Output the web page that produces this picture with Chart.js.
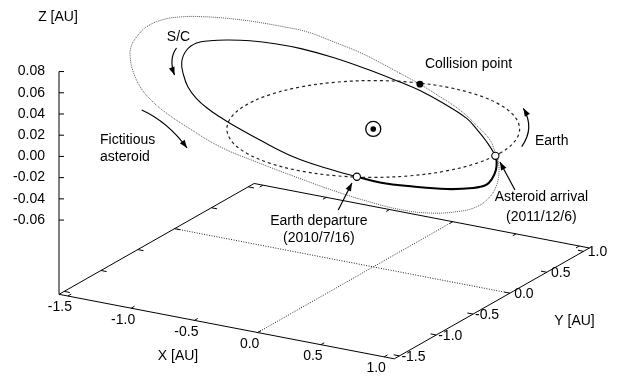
<!DOCTYPE html>
<html>
<head>
<meta charset="utf-8">
<title>Transfer orbit</title>
<script src="https://cdn.jsdelivr.net/npm/chart.js@4.4.1/dist/chart.umd.min.js"></script>
<style>
  html, body { margin: 0; padding: 0; background: #fff; }
  canvas { display: block; }
</style>
</head>
<body>
<canvas id="orbitChart" width="621" height="376"></canvas>
<script>
// box ranges (AU)
const xRange = [-1.57, 1.08];
const yRange = [-1.57, 1.08];
const zBase = -0.13;
const zTop = 0.08;

const xTicks = [-1.5, -1.0, -0.5, 0.0, 0.5, 1.0];
const yTicks = [-1.5, -1.0, -0.5, 0.0, 0.5, 1.0];
const zTicks = [-0.06, -0.04, -0.02, 0.00, 0.02, 0.04, 0.06, 0.08];

// Earth orbit, 1 AU circle, [X, Y]
const earthOrbit = [
  [1.000, 0.000], [0.966, 0.259], [0.866, 0.500], [0.707, 0.707],
  [0.500, 0.866], [0.259, 0.966], [0.000, 1.000], [-0.259, 0.966],
  [-0.500, 0.866], [-0.707, 0.707], [-0.866, 0.500], [-0.966, 0.259],
  [-1.000, 0.000], [-0.966, -0.259], [-0.866, -0.500], [-0.707, -0.707],
  [-0.500, -0.866], [-0.259, -0.966], [0.000, -1.000], [0.259, -0.966],
  [0.500, -0.866], [0.707, -0.707], [0.866, -0.500], [0.966, -0.259]
];

// spacecraft: flown arc, Earth departure -> asteroid arrival
const scTransfer = [
  [0.400, -0.910], [0.596, -0.933], [0.833, -0.892], [1.058, -0.820],
  [1.202, -0.712], [1.248, -0.614], [1.221, -0.486], [1.151, -0.312],
  [1.072, -0.166], [1.000, -0.060]
];
// rest of the spacecraft orbit, arrival back round to departure
const scOrbit = [
  [0.802, 0.162], [0.611, 0.354], [0.441, 0.511], [0.147, 0.699],
  [-0.124, 0.847], [-0.330, 0.930], [-0.662, 1.048], [-0.979, 1.139],
  [-1.262, 1.187], [-1.454, 1.187], [-1.645, 1.153], [-1.790, 1.085],
  [-1.881, 1.015], [-1.936, 0.928], [-1.922, 0.769], [-1.827, 0.538],
  [-1.681, 0.312], [-1.530, 0.113], [-1.368, -0.056], [-1.199, -0.197],
  [-1.029, -0.313], [-0.880, -0.406], [-0.554, -0.587], [-0.184, -0.771],
  [0.134, -0.863]
];

// fictitious asteroid orbit
const asteroidOrbit = [
  [-0.421, 1.086], [-0.651, 1.210], [-0.873, 1.320], [-1.143, 1.421],
  [-1.404, 1.508], [-1.594, 1.517], [-1.825, 1.507], [-2.016, 1.473],
  [-2.170, 1.421], [-2.288, 1.352], [-2.377, 1.233], [-2.400, 1.048],
  [-2.355, 0.835], [-2.282, 0.631], [-2.172, 0.432], [-2.009, 0.193],
  [-1.797, -0.067], [-1.597, -0.261], [-1.406, -0.413], [-1.125, -0.601],
  [-0.720, -0.844], [-0.312, -1.003], [0.082, -1.137], [0.404, -1.237],
  [0.710, -1.310], [0.995, -1.347], [1.208, -1.307], [1.352, -1.191],
  [1.419, -1.034], [1.393, -0.809], [1.311, -0.577], [1.190, -0.337],
  [1.059, -0.126], [0.955, 0.012], [0.804, 0.204], [0.575, 0.417],
  [0.315, 0.636], [0.059, 0.805], [-0.190, 0.960]
];

const sun = [0, 0, 0];
const collision = [-0.19, 0.96, 0];
const departure = [0.40, -0.91, 0];
const arrival = [1.00, -0.06, 0];

// orthographic view: rotation about Z, then vertical squash of the ecliptic
const VIEW = { rotZ: 30.2, tilt: 0.04562 };

function project(X, Y, Z) {
  const a = VIEW.rotZ * Math.PI / 180;
  const c = Math.cos(a), s = Math.sin(a);
  const depth = (Y - yRange[0]) * c - (X - xRange[0]) * s;
  return { x: X * c + Y * s, y: Z + depth * VIEW.tilt };
}

// closed curve: pad both ends so the spline wraps smoothly, the pad segments are hidden
function ring(points) {
  const n = points.length;
  return [points[n - 1], ...points, points[0], points[1]].map(([X, Y]) => project(X, Y, 0));
}
const hideEnds = n => ctx => (ctx.p0DataIndex === 0 || ctx.p0DataIndex === n + 1) ? 'rgba(0,0,0,0)' : undefined;

const scTrack = [...scTransfer, ...scOrbit];
const FONT = '"Liberation Sans", Arial, Helvetica, sans-serif';
const corner = project(xRange[0], yRange[0], 0);

function arrowHead(ctx, fx, fy, tx, ty) {
  const a = Math.atan2(ty - fy, tx - fx);
  const len = 8, half = 3;
  ctx.beginPath();
  ctx.moveTo(tx, ty);
  ctx.lineTo(tx - len * Math.cos(a) + half * Math.sin(a), ty - len * Math.sin(a) - half * Math.cos(a));
  ctx.lineTo(tx - len * Math.cos(a) - half * Math.sin(a), ty - len * Math.sin(a) + half * Math.cos(a));
  ctx.closePath();
  ctx.fill();
}

function curvedArrow(ctx, x0, y0, cx, cy, x1, y1) {
  ctx.beginPath();
  ctx.moveTo(x0, y0);
  ctx.quadraticCurveTo(cx, cy, x1, y1);
  ctx.stroke();
  arrowHead(ctx, cx, cy, x1, y1);
}

const boxPlugin = {
  id: 'box3d',
  beforeDatasetsDraw(chart) {
    const { ctx, scales: { x, y } } = chart;
    const px = (X, Y, Z) => { const p = project(X, Y, Z); return [x.getPixelForValue(p.x), y.getPixelForValue(p.y)]; };
    const seg = (a, b) => { ctx.beginPath(); ctx.moveTo(a[0], a[1]); ctx.lineTo(b[0], b[1]); ctx.stroke(); };
    ctx.save();
    ctx.strokeStyle = '#000';
    ctx.lineWidth = 1;

    // base of the box
    const c = [[xRange[0], yRange[0]], [xRange[1], yRange[0]], [xRange[1], yRange[1]], [xRange[0], yRange[1]]];
    ctx.beginPath();
    c.forEach(([X, Y], i) => { const [u, v] = px(X, Y, zBase); i ? ctx.lineTo(u, v) : ctx.moveTo(u, v); });
    ctx.closePath();
    ctx.stroke();

    // vertical Z axis with inward ticks
    const z0 = px(xRange[0], yRange[0], zBase), z1 = px(xRange[0], yRange[0], zTop);
    seg(z0, z1);
    zTicks.forEach(v => { const p = px(xRange[0], yRange[0], v); seg(p, [p[0] + 5, p[1]]); });

    // tick marks on the base, mirrored on the far edges
    const tl = 0.045;
    ctx.font = '14px ' + FONT;
    ctx.fillStyle = '#000';
    ctx.textAlign = 'center';
    ctx.textBaseline = 'middle';
    xTicks.forEach(v => {
      const a = px(v, yRange[0], zBase), b = px(v, yRange[1], zBase);
      seg(a, px(v, yRange[0] + tl, zBase));
      seg(b, px(v, yRange[1] - tl, zBase));
      ctx.fillText(v.toFixed(1), a[0] - 8, a[1] + 11.5);
    });
    yTicks.forEach(v => {
      const a = px(xRange[1], v, zBase), b = px(xRange[0], v, zBase);
      seg(a, px(xRange[1] - tl, v, zBase));
      seg(b, px(xRange[0] + tl, v, zBase));
      ctx.fillText(v.toFixed(1), a[0] + 14, a[1] + 1);
    });

    // dotted zero lines on the base
    ctx.strokeStyle = '#222';
    ctx.setLineDash([1, 1.5]);
    seg(px(0, yRange[0], zBase), px(0, yRange[1], zBase));
    seg(px(xRange[0], 0, zBase), px(xRange[1], 0, zBase));
    ctx.setLineDash([]);

    ctx.fillText('X [AU]', 178, 356);
    ctx.fillText('Y [AU]', 574.5, 321);
    ctx.fillText('Z [AU]', 58, 17.5);
    ctx.restore();
  },
  afterDatasetsDraw(chart) {
    const { ctx, scales: { x, y } } = chart;
    const pt = ([X, Y, Z]) => { const p = project(X, Y, Z); return [x.getPixelForValue(p.x), y.getPixelForValue(p.y)]; };
    ctx.save();
    ctx.font = '14px ' + FONT;
    ctx.fillStyle = '#000';
    ctx.strokeStyle = '#000';
    ctx.lineWidth = 1.2;
    ctx.textBaseline = 'middle';

    ctx.textAlign = 'left';
    const col = pt(collision);
    ctx.fillText('Collision point', col[0] + 5, col[1] - 19.7);
    ctx.fillText('Earth', 535, 141.5);
    ctx.fillText('Fictitious', 100, 140);
    ctx.fillText('asteroid', 100, 157);

    ctx.textAlign = 'center';
    ctx.fillText('S/C', 178.5, 37);
    const dep = pt(departure);
    ctx.fillText('Earth departure', dep[0] - 38, dep[1] + 44.5);
    ctx.fillText('(2010/7/16)', dep[0] - 38, dep[1] + 61);
    const arr = pt(arrival);
    ctx.fillText('Asteroid arrival', arr[0] + 46, arr[1] + 41);
    ctx.fillText('(2011/12/6)', arr[0] + 46, arr[1] + 61);

    // pointers and direction arrows
    curvedArrow(ctx, dep[0] - 18.6, dep[1] + 33.3, dep[0] - 11.8, dep[1] + 19.8, dep[0] - 4.9, dep[1] + 6.3);
    curvedArrow(ctx, arr[0] + 19.6, arr[1] + 34.2, arr[0] + 12.1, arr[1] + 20.2, arr[0] + 4.6, arr[1] + 6.2);
    curvedArrow(ctx, 176.5, 48, 168.5, 59, 174.5, 75);
    curvedArrow(ctx, 521.7, 146.7, 535, 128, 523.3, 108.3);
    curvedArrow(ctx, 141.7, 110, 168, 122, 187, 148);
    ctx.restore();
  }
};

const marker = (p, radius, fill, border) => ({
  data: [project(p[0], p[1], p[2])],
  showLine: false,
  pointRadius: radius,
  pointBackgroundColor: fill,
  pointBorderColor: '#000',
  pointBorderWidth: border
});

new Chart(document.getElementById('orbitChart'), {
  type: 'scatter',
  data: {
    datasets: [
      marker(sun, 2.8, '#000', 0),
      marker(sun, 7.5, '#fff', 1.3),
      marker(collision, 3.4, '#000', 0),
      {
        data: [project(...departure), project(...arrival)],
        showLine: false,
        pointRadius: 3.6,
        pointBackgroundColor: '#fff',
        pointBorderColor: '#000',
        pointBorderWidth: 1.1
      },
      {
        // spacecraft orbit, flown arc drawn heavier
        data: ring(scTrack),
        showLine: true,
        pointRadius: 0,
        borderColor: '#000',
        borderWidth: 1.1,
        tension: 0.4,
        segment: {
          borderColor: hideEnds(scTrack.length),
          borderWidth: ctx => (ctx.p0DataIndex >= 1 && ctx.p0DataIndex < scTransfer.length) ? 2.1 : undefined
        }
      },
      {
        data: ring(earthOrbit),
        showLine: true,
        pointRadius: 0,
        borderColor: '#222',
        borderWidth: 1.2,
        borderDash: [3, 3],
        tension: 0.35,
        segment: { borderColor: hideEnds(earthOrbit.length) }
      },
      {
        data: ring(asteroidOrbit),
        showLine: true,
        pointRadius: 0,
        borderColor: '#555',
        borderWidth: 1,
        borderDash: [1, 1],
        tension: 0.4,
        segment: { borderColor: hideEnds(asteroidOrbit.length) }
      }
    ]
  },
  options: {
    responsive: false,
    animation: false,
    devicePixelRatio: 1,
    events: [],
    layout: { padding: 0, autoPadding: false },
    plugins: { legend: { display: false }, tooltip: { enabled: false } },
    scales: {
      x: {
        type: 'linear',
        display: false,
        min: corner.x,
        max: corner.x + 3.839
      },
      y: {
        type: 'linear',
        position: 'left',
        min: -0.2070,
        max: 0.14745,
        grid: { display: false, drawTicks: false },
        border: { display: false },
        ticks: {
          color: '#000',
          padding: 14,
          font: { family: FONT, size: 14 },
          callback: v => v.toFixed(2)
        },
        afterBuildTicks: s => { s.ticks = zTicks.map(v => ({ value: v })); },
        afterFit: s => { s.width = 59; s.paddingTop = 0; s.paddingBottom = 0; }
      }
    }
  },
  plugins: [boxPlugin]
});
</script>
</body>
</html>
